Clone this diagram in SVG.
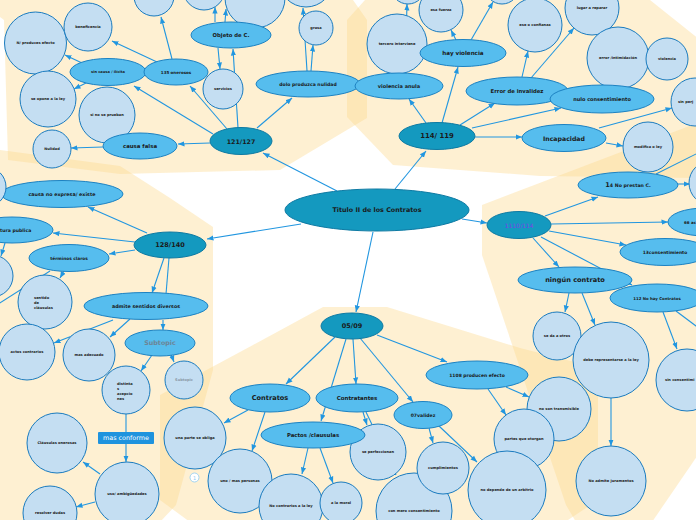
<svg xmlns="http://www.w3.org/2000/svg" width="696" height="520" viewBox="0 0 696 520">
<defs>
<marker id="a" viewBox="0 0 10 10" refX="10" refY="5" markerWidth="6.5" markerHeight="6.5" orient="auto" markerUnits="userSpaceOnUse"><path d="M0,1 L10,5 L0,9 z" fill="#2196e0"/></marker>
<style>
.bg{fill:#FCD98E;fill-opacity:.4}
.e line{stroke:#2196e0;stroke-width:1.1}
.e .h{marker-end:url(#a)}
.d{fill:#1499bf;stroke:#0e7aa3;stroke-width:1}
.m{fill:#56bdee;stroke:#1d82c2;stroke-width:1}
.c{fill:#c4def2;stroke:#1a7bbf;stroke-width:1}
text{font-family:"DejaVu Sans","Liberation Sans",sans-serif;font-weight:bold;fill:#1a1a1a;text-anchor:middle;dominant-baseline:central}
.t0{font-size:6.4px}
.t1{font-size:6.3px}
.t2{font-size:5px}
.t3{font-size:3.6px}
.l{text-anchor:start}
</style>
</defs>
<rect width="696" height="520" fill="#ffffff"/>
<g id="background">
<polygon class="bg" points="0,0 353,0 367,20 367,118 280,170 120,174 8,160 4,20 0,17"/>
<polygon class="bg" points="0,150 120,166 170,198 213,227 213,370 176,505 160,522 0,522"/>
<polygon class="bg" points="365,0 650,0 700,40 700,178 540,176 393,165 347,117 347,20"/>
<polygon class="bg" points="482,205 700,122 700,452 652,522 576,522 566,505 482,255"/>
<polygon class="bg" points="160,395 253,345 323,307 387,307 520,348 598,368 598,500 565,522 190,522 160,500"/>
</g>
<g id="connectors" class="e">
<line class="h" x1="337" y1="191" x2="263" y2="153"/>
<line class="h" x1="395" y1="189" x2="426" y2="151"/>
<line class="h" x1="301" y1="224" x2="207" y2="239"/>
<line class="h" x1="462" y1="219" x2="487" y2="223"/>
<line class="h" x1="373" y1="232" x2="356" y2="312"/>
<line class="h" x1="227" y1="129" x2="190" y2="86"/>
<line class="h" x1="213" y1="134" x2="134" y2="86"/>
<line class="h" x1="210" y1="143" x2="178" y2="144"/>
<line class="h" x1="238" y1="128" x2="233" y2="49"/>
<line class="h" x1="257" y1="128" x2="292" y2="98"/>
<line class="h" x1="218" y1="48" x2="220" y2="69"/>
<line class="h" x1="215" y1="22" x2="215" y2="7"/>
<line class="h" x1="225" y1="22" x2="226" y2="9"/>
<line class="h" x1="311" y1="71" x2="313" y2="45"/>
<line class="h" x1="307" y1="71" x2="303" y2="8"/>
<line class="h" x1="157" y1="62" x2="112" y2="41"/>
<line class="h" x1="172" y1="59" x2="161" y2="17"/>
<line class="h" x1="82" y1="63" x2="65" y2="55"/>
<line class="h" x1="88" y1="82" x2="74" y2="89"/>
<line class="h" x1="103" y1="147" x2="71" y2="148"/>
<line class="h" x1="426" y1="123" x2="409" y2="99"/>
<line class="h" x1="442" y1="123" x2="458" y2="67"/>
<line class="h" x1="460" y1="125" x2="495" y2="103"/>
<line class="h" x1="472" y1="128" x2="561" y2="108"/>
<line class="h" x1="475" y1="137" x2="522" y2="137"/>
<line class="h" x1="405" y1="73" x2="407" y2="4"/>
<line class="h" x1="456" y1="40" x2="451" y2="30"/>
<line class="h" x1="471" y1="40" x2="493" y2="2"/>
<line class="h" x1="522" y1="77" x2="528" y2="51"/>
<line class="h" x1="531" y1="78" x2="574" y2="28"/>
<line class="h" x1="599" y1="128" x2="672" y2="108"/>
<line class="h" x1="606" y1="143" x2="623" y2="146"/>
<line class="h" x1="678" y1="184" x2="690" y2="184"/>
<line x1="656" y1="174" x2="700" y2="152"/>
<line class="h" x1="545" y1="216" x2="598" y2="197"/>
<line class="h" x1="551" y1="224" x2="668" y2="222"/>
<line class="h" x1="549" y1="231" x2="626" y2="245"/>
<line class="h" x1="533" y1="238" x2="559" y2="267"/>
<line class="h" x1="541" y1="237" x2="632" y2="285"/>
<line class="h" x1="569" y1="293" x2="565" y2="312"/>
<line class="h" x1="582" y1="293" x2="595" y2="325"/>
<line class="h" x1="663" y1="312" x2="677" y2="349"/>
<line x1="676" y1="311" x2="700" y2="329"/>
<line class="h" x1="611" y1="398" x2="611" y2="446"/>
<line class="h" x1="147" y1="233" x2="88" y2="207"/>
<line class="h" x1="135" y1="242" x2="53" y2="233"/>
<line class="h" x1="135" y1="250" x2="109" y2="254"/>
<line class="h" x1="164" y1="258" x2="152" y2="293"/>
<line x1="169" y1="258" x2="166" y2="294"/>
<line class="h" x1="5" y1="243" x2="1" y2="256"/>
<line class="h" x1="64" y1="271" x2="60" y2="278"/>
<line x1="50" y1="271" x2="-5" y2="306"/>
<line class="h" x1="113" y1="320" x2="54" y2="343"/>
<line class="h" x1="130" y1="319" x2="110" y2="337"/>
<line class="h" x1="163" y1="320" x2="163" y2="330"/>
<line class="h" x1="152" y1="355" x2="141" y2="371"/>
<line class="h" x1="171" y1="354" x2="174" y2="362"/>
<line class="h" x1="126" y1="414" x2="126" y2="462"/>
<line class="h" x1="100" y1="474" x2="83" y2="462"/>
<line class="h" x1="95" y1="502" x2="76" y2="507"/>
<line class="h" x1="335" y1="337" x2="286" y2="384"/>
<line class="h" x1="353" y1="339" x2="356" y2="384"/>
<line class="h" x1="346" y1="339" x2="321" y2="421"/>
<line class="h" x1="360" y1="338" x2="413" y2="402"/>
<line class="h" x1="377" y1="335" x2="447" y2="362"/>
<line class="h" x1="248" y1="410" x2="224" y2="423"/>
<line class="h" x1="265" y1="412" x2="252" y2="451"/>
<line class="h" x1="363" y1="412" x2="367" y2="425"/>
<line class="h" x1="366" y1="412" x2="396" y2="475"/>
<line class="h" x1="308" y1="448" x2="302" y2="474"/>
<line class="h" x1="320" y1="448" x2="333" y2="483"/>
<line class="h" x1="429" y1="428" x2="433" y2="443"/>
<line class="h" x1="439" y1="426" x2="477" y2="462"/>
<line class="h" x1="488" y1="389" x2="506" y2="415"/>
<line class="h" x1="506" y1="387" x2="529" y2="397"/>
</g>
<g id="n-top1"><circle class="c" cx="154" cy="-4" r="20"/></g>
<g id="n-top2"><circle class="c" cx="204" cy="-11" r="21"/></g>
<g id="n-top4"><circle class="c" cx="306" cy="-20" r="27"/></g>
<g id="n-top3"><circle class="c" cx="255" cy="-2" r="30"/></g>
<g id="n-nproduces"><circle class="c" cx="35.5" cy="43" r="31"/><text class="t3" x="35.5" y="43">N/ produces efecto</text></g>
<g id="n-beneficencia"><circle class="c" cx="88" cy="27" r="24"/><text class="t3" x="88" y="27">beneficencia</text></g>
<g id="n-seopone"><circle class="c" cx="48" cy="99" r="28"/><text class="t3" x="48" y="99">se opone a la ley</text></g>
<g id="n-sinoprueban"><circle class="c" cx="107" cy="115" r="28"/><text class="t3" x="107" y="115">si no se prueban</text></g>
<g id="n-nulidad"><circle class="c" cx="52" cy="149" r="19"/><text class="t3" x="52" y="149">Nulidad</text></g>
<g id="n-sincausa"><ellipse class="m" cx="108" cy="72" rx="38" ry="13.5"/><text class="t3" x="108" y="72">sin causa / ilícita</text></g>
<g id="n-onerosos"><ellipse class="m" cx="176" cy="72" rx="32" ry="13"/><text x="176" y="72" style="font-size:4px">135 onerosos</text></g>
<g id="n-causafalsa"><ellipse class="m" cx="140" cy="146" rx="37" ry="13"/><text x="140" y="146" style="font-size:5.4px">causa falsa</text></g>
<g id="n-objeto"><ellipse class="m" cx="231" cy="35" rx="40" ry="13"/><text x="231" y="35" style="font-size:5.3px">Objeto de C.</text></g>
<g id="n-servicios"><circle class="c" cx="223" cy="89" r="20"/><text class="t3" x="223" y="89">servicios</text></g>
<g id="n-grasa"><circle class="c" cx="316" cy="28" r="17"/><text class="t3" x="316" y="28">grasa</text></g>
<g id="n-dolo"><ellipse class="m" cx="308" cy="84" rx="52" ry="13"/><text x="308" y="84" style="font-size:4.6px">dolo produzca nulidad</text></g>
<g id="n-121"><ellipse class="d" cx="241" cy="141" rx="31" ry="13.5"/><text class="t1" x="241" y="141">121/127</text></g>
<g id="n-top5"><circle class="c" cx="408" cy="-13" r="17"/></g>
<g id="n-top6"><circle class="c" cx="502" cy="-13" r="17"/></g>
<g id="n-esafuerza"><circle class="c" cx="441" cy="10" r="22"/><text class="t3" x="441" y="10">esa fuerza</text></g>
<g id="n-tercero"><circle class="c" cx="397" cy="44" r="30"/><text class="t3" x="397" y="44">tercero interviene</text></g>
<g id="n-hayviolencia"><ellipse class="m" cx="463" cy="53" rx="43" ry="13.5"/><text x="463" y="53" style="font-size:5.6px">hay violencia</text></g>
<g id="n-violenciaanula"><ellipse class="m" cx="399" cy="86" rx="44" ry="13"/><text x="399" y="86" style="font-size:5px">violencia anula</text></g>
<g id="n-confianza"><circle class="c" cx="535" cy="25" r="27"/><text class="t3" x="535" y="25">ese o confianza</text></g>
<g id="n-lugar"><circle class="c" cx="592" cy="8" r="27"/><text class="t3" x="592" y="8">lugar a reparar</text></g>
<g id="n-errorintim"><circle class="c" cx="618" cy="58" r="31"/><text class="t3" x="618" y="58">error /intimidación</text></g>
<g id="n-violencia"><circle class="c" cx="667" cy="59" r="21"/><text class="t3" x="667" y="59">violencia</text></g>
<g id="n-error"><ellipse class="m" cx="517" cy="91" rx="51" ry="14"/><text x="517" y="91" style="font-size:5.3px">Error de invalidez</text></g>
<g id="n-nulo"><ellipse class="m" cx="602" cy="99" rx="52" ry="14"/><text x="602" y="99" style="font-size:5px">nulo consentimiento</text></g>
<g id="n-sinperj"><circle class="c" cx="695" cy="102" r="24"/><text class="t3 l" x="678" y="102">sin perj</text></g>
<g id="n-incapacidad"><ellipse class="m" cx="564" cy="138" rx="42" ry="13.5"/><text x="564" y="138" style="font-size:6.2px">Incapacidad</text></g>
<g id="n-modifica"><circle class="c" cx="648" cy="147" r="25"/><text class="t3" x="648" y="147">modifica o ley</text></g>
<g id="n-114"><ellipse class="d" cx="437" cy="136" rx="38" ry="13.5"/><text x="437" y="136" style="font-size:6.9px">114/ 119</text></g>
<g id="n-right1"><circle class="c" cx="711" cy="183" r="22"/></g>
<g id="n-14"><ellipse class="m" cx="628" cy="185" rx="50" ry="13"/><text x="628" y="185" style="font-size:4.7px"><tspan style="font-size:6.6px">1</tspan>4 No prestan C.</text></g>
<g id="n-66"><ellipse class="m" cx="705" cy="222" rx="37" ry="14"/><text class="l" x="684" y="222" style="font-size:4px">66 ac</text></g>
<g id="n-13"><ellipse class="m" cx="665" cy="252" rx="45" ry="13.5"/><text x="665" y="252" style="font-size:4.4px">13consentimiento</text></g>
<g id="n-ningun"><ellipse class="m" cx="575" cy="280" rx="57" ry="13"/><text x="575" y="280" style="font-size:6.6px">ningún contrato</text></g>
<g id="n-112"><ellipse class="m" cx="657" cy="298" rx="47" ry="14"/><text x="657" y="298" style="font-size:3.9px">112 No hay Contratos</text></g>
<g id="n-1110"><ellipse class="d" cx="519" cy="225" rx="32" ry="13.5"/><text x="519" y="225" style="font-size:6px;fill:#7e3fe6;font-weight:normal">1110/114</text></g>
<g id="n-seda"><circle class="c" cx="557" cy="336" r="24"/><text class="t3" x="557" y="336">se da a otros</text></g>
<g id="n-debe"><circle class="c" cx="611" cy="360" r="38"/><text class="t3" x="611" y="360">debe representarse a la ley</text></g>
<g id="n-sincons"><circle class="c" cx="687" cy="380" r="31"/><text class="t3 l" x="665" y="380">sin consentimi</text></g>
<g id="n-admite-jur"><circle class="c" cx="611" cy="481" r="35"/><text class="t3" x="611" y="481">No admite juramentos</text></g>
<g id="n-causano"><ellipse class="m" cx="62" cy="194" rx="61" ry="13.5"/><text x="62" y="194" style="font-size:4.8px">causa no expresa/ existe</text></g>
<g id="n-left1"><circle class="c" cx="-14" cy="187" r="20"/></g>
<g id="n-left2"><circle class="c" cx="-8" cy="276" r="21"/></g>
<g id="n-tura"><ellipse class="m" cx="12" cy="230" rx="41" ry="13"/><text class="l" x="0" y="230" style="font-size:4.6px">tura publica</text></g>
<g id="n-terminos"><ellipse class="m" cx="69" cy="258" rx="40" ry="13.5"/><text x="69" y="258" style="font-size:4.3px">términos claros</text></g>
<g id="n-sentido"><circle class="c" cx="45" cy="302" r="27"/><text class="t3 l" x="34" y="297.5">sentido</text><text class="t3 l" x="34" y="302.5">de</text><text class="t3 l" x="34" y="307.5">cláusulas</text></g>
<g id="n-admite"><ellipse class="m" cx="146" cy="306" rx="62" ry="13.5"/><text x="146" y="306" style="font-size:4.8px">admite sentidos diversos</text></g>
<g id="n-subtopic1"><ellipse class="m" cx="160" cy="343" rx="35" ry="13"/><text x="160" y="343" style="font-size:6.4px;fill:#6d8596">Subtopic</text></g>
<g id="n-actos"><circle class="c" cx="27" cy="352" r="28"/><text class="t3" x="27" y="352">actos contrarios</text></g>
<g id="n-masadecuado"><circle class="c" cx="89" cy="355" r="26"/><text class="t3" x="89" y="355">mas adecuado</text></g>
<g id="n-subtopic2"><circle class="c" cx="184" cy="380" r="19"/><text x="184" y="380" style="font-size:3.6px;fill:#8a99a6">Subtopic</text></g>
<g id="n-distinta"><circle class="c" cx="126" cy="390" r="24"/><text class="t3 l" x="117" y="383.5">distinta</text><text class="t3 l" x="117" y="388.5">s</text><text class="t3 l" x="117" y="393.7">acepcio</text><text class="t3 l" x="117" y="398.8">nes</text></g>
<g id="n-masconforme"><rect x="98" y="432" width="56" height="12" rx="1" fill="#1f93de"/><text x="126" y="438" style="font-size:6.4px;fill:#ffffff;font-weight:normal">mas conforme</text></g>
<g id="n-clausulas"><circle class="c" cx="57" cy="443" r="30"/><text class="t3" x="57" y="443">Cláusulas onerosas</text></g>
<g id="n-uso"><circle class="c" cx="127" cy="494" r="32"/><text class="t3" x="127" y="494">uso/ ambigüedades</text></g>
<g id="n-resolver"><circle class="c" cx="50" cy="513" r="27"/><text class="t3" x="50" y="513">resolver dudas</text></g>
<g id="n-128"><ellipse class="d" cx="170" cy="245" rx="36" ry="13"/><text x="170" y="245" style="font-size:6.5px">128/140</text></g>
<g id="n-unaparte"><circle class="c" cx="195" cy="438" r="31"/><text class="t3" x="195" y="438">una parte se obliga</text><circle cx="194.5" cy="477.5" r="4.5" fill="#ffffff" stroke="#8ccaf0" stroke-width="0.8"/><text x="194.5" y="477.6" style="font-size:5px;fill:#8ccaf0;font-weight:normal">1</text></g>
<g id="n-uno"><circle class="c" cx="240" cy="481" r="32"/><text class="t3" x="240" y="481">uno / mas personas</text></g>
<g id="n-nocontrarios"><circle class="c" cx="291" cy="506" r="32"/><text class="t3" x="291" y="506">No contrarios a la ley</text></g>
<g id="n-moral"><circle class="c" cx="341" cy="503" r="21"/><text class="t3" x="341" y="503">a la moral</text></g>
<g id="n-seperf"><circle class="c" cx="378" cy="452" r="28"/><text class="t3" x="378" y="452">se perfeccionan</text></g>
<g id="n-conmero"><circle class="c" cx="414" cy="511" r="38"/><text class="t3" x="414" y="511">con mero consentimiento</text></g>
<g id="n-cumpl"><circle class="c" cx="443" cy="468" r="26"/><text class="t3" x="443" y="468">cumplimientos</text></g>
<g id="n-noson"><circle class="c" cx="559" cy="409" r="32"/><text class="t3" x="559" y="409">no son transmisible</text></g>
<g id="n-partes"><circle class="c" cx="524" cy="439" r="30"/><text class="t3" x="524" y="439">partes que otorgan</text></g>
<g id="n-nodepende"><circle class="c" cx="507" cy="490" r="39"/><text class="t3" x="507" y="490">no depende de un arbitrio</text></g>
<g id="n-contratos"><ellipse class="m" cx="270" cy="398" rx="40" ry="14"/><text x="270" y="398" style="font-size:6.6px">Contratos</text></g>
<g id="n-contratantes"><ellipse class="m" cx="357" cy="398" rx="41" ry="14"/><text x="357" y="398" style="font-size:5.5px">Contratantes</text></g>
<g id="n-pactos"><ellipse class="m" cx="313" cy="435" rx="52" ry="13"/><text x="313" y="435" style="font-size:5.4px">Pactos /clausulas</text></g>
<g id="n-validez"><ellipse class="m" cx="423" cy="415" rx="29" ry="13.5"/><text x="423" y="415" style="font-size:4.6px">07validez</text></g>
<g id="n-1108"><ellipse class="m" cx="477" cy="375" rx="51" ry="14"/><text x="477" y="375" style="font-size:4.5px">1108 producen efecto</text></g>
<g id="n-0509"><ellipse class="d" cx="352" cy="326" rx="31" ry="13"/><text x="352" y="326" style="font-size:6.5px">05/09</text></g>
<g id="n-titulo"><ellipse class="d" cx="377" cy="210" rx="92" ry="21"/><text class="t0" x="377" y="210">Titulo II de los Contratos</text></g>
</svg>
